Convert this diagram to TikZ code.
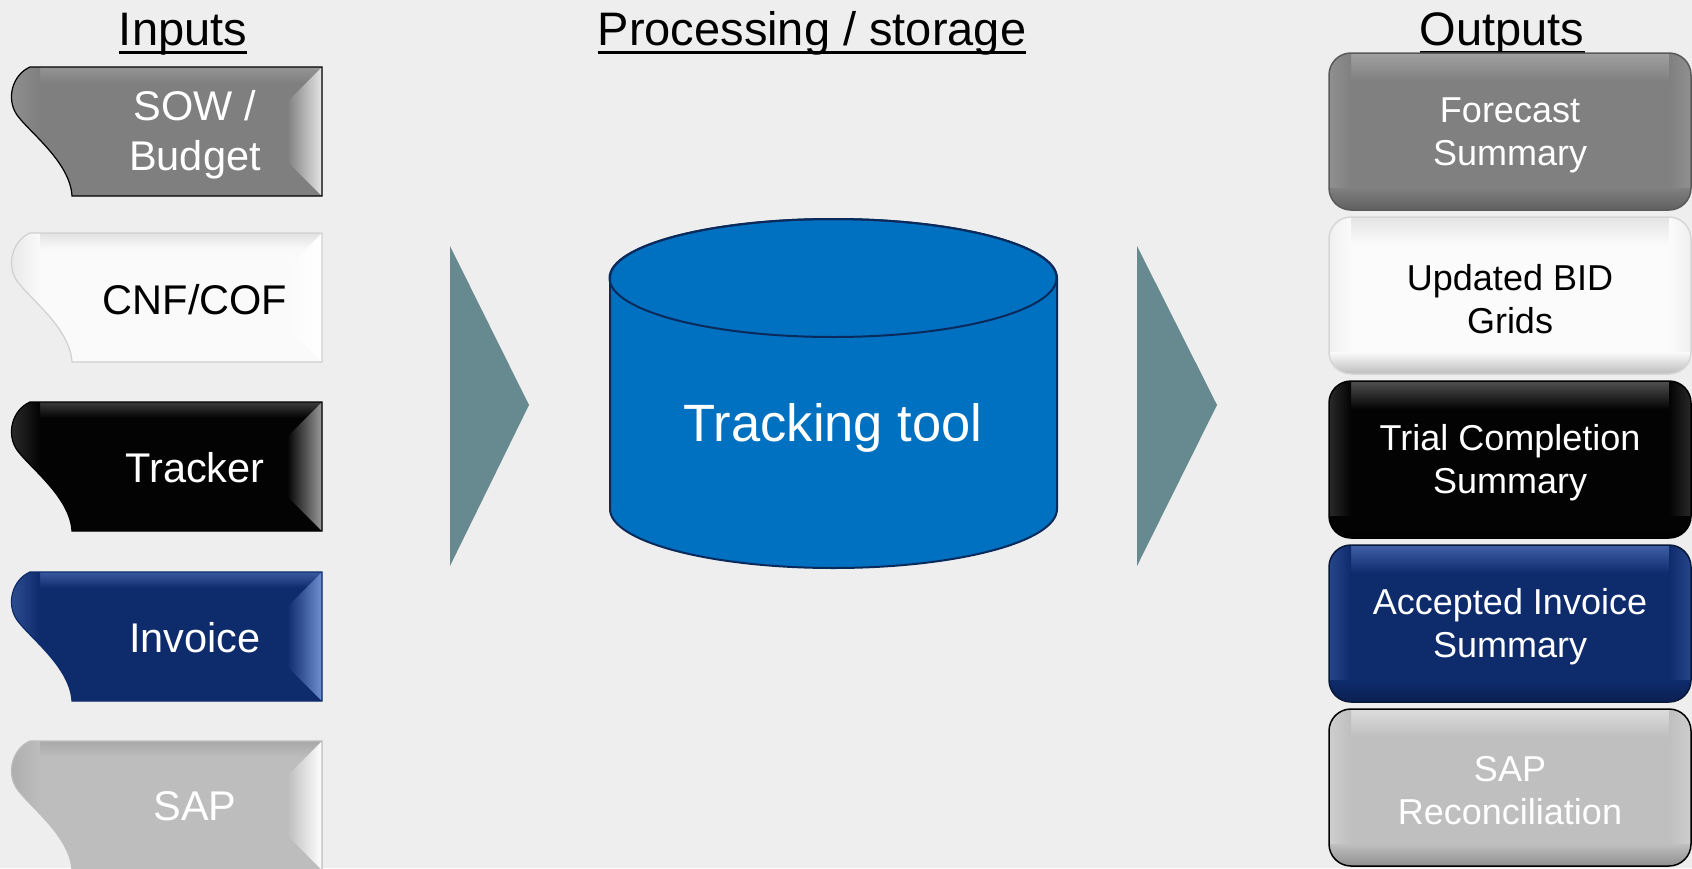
\documentclass[tikz,border=0pt]{standalone}
\usepackage{fontspec}
\setmainfont{Liberation Sans}
\definecolor{bg}{HTML}{EEEEEE}
\definecolor{arrowc}{HTML}{678A91}
\definecolor{cylblue}{HTML}{0070C0}
\definecolor{cylline}{HTML}{0B2A5C}
\definecolor{navy}{HTML}{0E2B6C}
\definecolor{navyl}{HTML}{6F8FD0}
\definecolor{navyt}{HTML}{3A5A9E}
\definecolor{midgray}{HTML}{7F7F7F}
\definecolor{midgrayl}{HTML}{E6E6E6}
\definecolor{midgrayt}{HTML}{959595}
\definecolor{ltgray}{HTML}{BDBDBD}
\definecolor{ltgrayt}{HTML}{A8A8A8}
\definecolor{paper}{HTML}{FAFAFA}
\definecolor{papert}{HTML}{E2E2E2}
\definecolor{paperb}{HTML}{D0D0D0}
\definecolor{blk}{HTML}{030303}
\definecolor{blkl}{HTML}{9A9A9A}
\definecolor{blkt}{HTML}{3A3A3A}
\definecolor{ogray}{HTML}{808080}
\definecolor{ograyl}{HTML}{A0A0A0}
\definecolor{ograyb}{HTML}{5A5A5A}
\definecolor{owhite}{HTML}{FBFBFB}
\definecolor{owhitel}{HTML}{E4E4E4}
\definecolor{owhiteb}{HTML}{D6D6D6}
\definecolor{oblkl}{HTML}{505050}
\definecolor{onavyl}{HTML}{4060A8}
\definecolor{onavyb}{HTML}{081838}
\definecolor{olt}{HTML}{BFBFBF}
\definecolor{oltl}{HTML}{DCDCDC}
\tikzset{
  hdr/.style={font=\fontsize{47}{56}\selectfont, inner sep=0pt, anchor=base},
  intext/.style={font=\fontsize{41.5}{50}\selectfont, align=center, inner sep=0pt},
  outtext/.style={font=\fontsize{36}{43}\selectfont, align=center, inner sep=0pt},
  bigarrow/.style={fill=arrowc},
}
% #1 top y, #2 fill, #3 bevel light (right), #4 top band colour, #5 border
\newcommand\inshape[5]{%
  \begin{scope}[shift={(0,#1)}]
    \fill[#2] (30,0) -- (322,0) -- (322,129) -- (72,129) .. controls (70,95) and (30,66) .. (17,48) .. controls (6,32) and (12,8) .. (30,0) -- cycle;
    \begin{scope}
      \clip (30,0) -- (322,0) -- (322,129) -- (72,129) .. controls (70,95) and (30,66) .. (17,48) .. controls (6,32) and (12,8) .. (30,0) -- cycle;
      \shade[top color=#4, bottom color=#2] (0,0) rectangle (322,16);
      \shade[left color=#4, right color=#2] (0,0) rectangle (40,129);
    \end{scope}
    \shade[left color=#2, right color=#3] (287,35) -- (322,0) -- (322,129) -- (287,94) -- cycle;
    \draw[#5, line width=1.2pt] (30,0) -- (322,0) -- (322,129) -- (72,129) .. controls (70,95) and (30,66) .. (17,48) .. controls (6,32) and (12,8) .. (30,0) -- cycle;
  \end{scope}}
% #1 top y, #2 fill, #3 light, #4 border
\newcommand\outbox[4]{%
  \begin{scope}[shift={(0,#1)}]
    \fill[#2, rounded corners=22pt] (1329,0) rectangle (1691,157);
    \begin{scope}
      \clip[rounded corners=22pt] (1329,0) rectangle (1691,157);
      \shade[top color=#3, bottom color=#2] (1329,0) rectangle (1691,28);
      \shade[left color=#3!50!#2, right color=#2] (1329,0) rectangle (1351,157);
      \shade[left color=#2, right color=#3!50!#2] (1669,0) rectangle (1691,157);
      \shade[top color=#2, bottom color=black!25!#2] (1329,135) rectangle (1691,157);
    \end{scope}
    \draw[#4, line width=1.5pt, rounded corners=22pt] (1329,0) rectangle (1691,157);
  \end{scope}}
\begin{document}
\begin{tikzpicture}[x=1pt, y=-1pt]
\useasboundingbox (0,0) rectangle (1692,868);
\fill[bg] (0,0) rectangle (1692,868);

% headers
\node[hdr] (hin) at (183,45) {Inputs};
\draw[line width=3pt] ([yshift=-7pt]hin.base west) -- ([yshift=-7pt]hin.base east);
\node[hdr] (hproc) at (812,45) {Processing / storage};
\draw[line width=3pt] ([yshift=-7pt]hproc.base west) -- ([yshift=-7pt]hproc.base east);
\node[hdr] (hout) at (1502,45) {Outputs};
\draw[line width=3pt] ([yshift=-7pt]hout.base west) -- ([yshift=-7pt]hout.base east);

% inputs
\inshape{67}{midgray}{midgrayl}{midgrayt}{black}
\inshape{233}{paper}{white}{papert}{paperb}
\inshape{402}{blk}{blkl}{blkt}{black}
\inshape{572}{navy}{navyl}{navyt}{navy}
\inshape{741}{ltgray}{white}{ltgrayt}{ltgray}
\node[intext, text=white] (sow) at (195,135) {SOW /\\Budget};
\node[intext, text=black] (cnf) at (195,299.5) {CNF/COF};
\node[intext, text=white] (trk) at (195,467.5) {Tracker};
\node[intext, text=white] (inv) at (195,637.5) {Invoice};
\node[intext, text=white] (sap) at (195,806.5) {SAP};

% arrows
\fill[bigarrow] (450,246) -- (529,405) -- (450,566) -- cycle;
\fill[bigarrow] (1137,246) -- (1217,405) -- (1137,566) -- cycle;

% cylinder
\filldraw[fill=cylblue, draw=cylline, line width=2pt] (610,278) -- (610,509)
  arc[start angle=180, end angle=360, x radius=223.5pt, y radius=59pt]
  -- (1057,278)
  arc[start angle=0, end angle=180, x radius=223.5pt, y radius=59pt] -- cycle;
\draw[cylline, line width=2pt] (833,278) ellipse[x radius=223.5pt, y radius=59pt];
\node[font=\fontsize{52.5}{63}\selectfont, text=white, inner sep=0pt, anchor=base] (tool) at (833,441) {Tracking tool};

% outputs
\outbox{53}{ogray}{ograyl}{ograyb}
\outbox{217}{owhite}{owhitel}{owhiteb}
\outbox{381}{blk}{oblkl}{black}
\outbox{545}{navy}{onavyl}{onavyb}
\outbox{709}{olt}{oltl}{black}
\node[outtext, text=white] (fs) at (1510,135) {Forecast\\Summary};
\node[outtext, text=black] (bid) at (1510,299) {Updated BID\\Grids};
\node[outtext, text=white] (tcs) at (1510,463) {Trial Completion\\Summary};
\node[outtext, text=white] (ais) at (1510,627) {Accepted Invoice\\Summary};
\node[outtext, text=white] (sapr) at (1510,791) {SAP\\Reconciliation};
\end{tikzpicture}
\end{document}
